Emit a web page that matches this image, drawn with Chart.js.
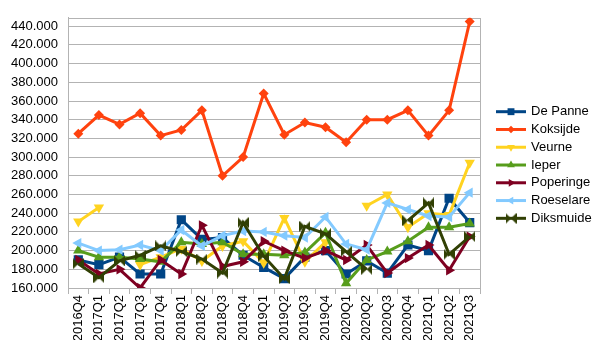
<!DOCTYPE html>
<html lang="nl">
<head>
<meta charset="UTF-8">
<title>Gemeenten per kwartaal</title>
<script src="https://cdn.jsdelivr.net/npm/chart.js"></script>
<style>
  body { margin: 0; background: #fff; }
  canvas { display: block; }
</style>
</head>
<body>
<canvas id="chart" width="605" height="340"></canvas>
<script>
// kwartalen
const quarters = ['2016Q4', '2017Q1', '2017Q2', '2017Q3', '2017Q4', '2018Q1', '2018Q2', '2018Q3', '2018Q4', '2019Q1',
                  '2019Q2', '2019Q3', '2019Q4', '2020Q1', '2020Q2', '2020Q3', '2020Q4', '2021Q1', '2021Q2', '2021Q3'];

// waarden (geschat uit de grafiek)
const dePanne    = [190000, 185000, 193000, 175000, 175000, 233000, 212000, 214000, 195000, 182000, 170000, 193000, 200000, 175000, 189000, 176000, 206000, 200000, 256000, 230000];
const koksijde   = [325000, 345000, 335000, 347000, 323000, 329000, 350000, 280000, 300000, 368000, 324000, 337000, 332000, 316000, 340000, 340000, 350000, 323000, 350000, 445000];
const veurne     = [231000, 246000, null, 185000, 193000, 202000, 189000, 205000, 210000, 187000, 235000, 188000, 209000, null, 248000, 260000, 225000, 240000, 238000, 294000];
const ieper      = [200000, 193000, 193000, 191000, 188000, 209000, 207000, 209000, 196000, 196000, 195000, 198000, 219000, 165000, 190000, 199000, 210000, 225000, 225000, 229000];
const poperinge  = [190000, 175000, 180000, 160000, 190000, 175000, 227000, 183000, 188000, 210000, 200000, 192000, 200000, 190000, 206000, 176000, 192000, 206000, 179000, 215000];
const roeselare  = [208000, 200000, 201000, 206000, 200000, 222000, 205000, 216000, 221000, 220000, 216000, 214000, 236000, 207000, 201000, 251000, 244000, 237000, 236000, 262000];
const diksmuide  = [186000, 171000, 189000, 195000, 205000, 199000, 191000, 176000, 230000, 194000, 170000, 226000, 218000, 199000, 180000, null, 232000, 251000, 196000, 215000];

// y-as
const yTicks = [160000, 180000, 200000, 220000, 240000, 260000, 280000, 300000, 320000, 340000, 360000, 380000, 400000, 420000, 440000];
const yMin = 160000;
const yMax = 449000;

// bowtie marker voor Diksmuide
function bowtie(color, s) {
  const c = document.createElement('canvas');
  c.width = s; c.height = s;
  const g = c.getContext('2d');
  g.fillStyle = color;
  g.beginPath();
  g.moveTo(0, 0); g.lineTo(s / 2, s / 2); g.lineTo(0, s); g.closePath();
  g.moveTo(s, 0); g.lineTo(s / 2, s / 2); g.lineTo(s, s); g.closePath();
  g.fill();
  return c;
}

const series = [
  { label: 'De Panne',  data: dePanne,   color: '#004586', style: 'rect',     radius: 6.5, rot: 0 },
  { label: 'Koksijde',  data: koksijde,  color: '#ff420e', style: 'rectRot',  radius: 5,   rot: 0 },
  { label: 'Veurne',    data: veurne,    color: '#ffd320', style: 'triangle', radius: 6,   rot: 180 },
  { label: 'Ieper',     data: ieper,     color: '#579d1c', style: 'triangle', radius: 6,   rot: 0 },
  { label: 'Poperinge', data: poperinge, color: '#7e0021', style: 'triangle', radius: 6,   rot: 90 },
  { label: 'Roeselare', data: roeselare, color: '#83caff', style: 'triangle', radius: 6,   rot: 270 },
  { label: 'Diksmuide', data: diksmuide, color: '#314004', style: bowtie('#314004', 11), radius: 6, rot: 0 }
];

function fmt(v) {
  return String(v).replace(/\B(?=(\d{3})+(?!\d))/g, '.');
}

// kader rond het plotgebied
const frame = {
  id: 'frame',
  beforeDatasetsDraw(chart) {
    const a = chart.chartArea, ctx = chart.ctx;
    ctx.save();
    ctx.strokeStyle = '#b3b3b3';
    ctx.lineWidth = 1;
    ctx.strokeRect(Math.round(a.left) + 0.5, Math.round(a.top) + 0.5, Math.round(a.right - a.left), Math.round(a.bottom - a.top));
    ctx.restore();
  }
};

// legende rechts
const legend = {
  id: 'sideLegend',
  afterDraw(chart) {
    const ctx = chart.ctx;
    ctx.save();
    ctx.font = '13px "Liberation Sans", Arial, sans-serif';
    ctx.textBaseline = 'middle';
    series.forEach((s, i) => {
      const y = 111.7 + i * 17.77;
      ctx.strokeStyle = s.color;
      ctx.lineWidth = 3;
      ctx.beginPath();
      ctx.moveTo(496, y);
      ctx.lineTo(526, y);
      ctx.stroke();
      ctx.fillStyle = s.color;
      Chart.helpers.drawPoint(ctx, { pointStyle: s.style, radius: s.radius * 0.75, rotation: s.rot, borderWidth: 0 }, 511, y);
      ctx.fillStyle = '#000';
      ctx.fillText(s.label, 531, y);
    });
    ctx.restore();
  }
};

new Chart(document.getElementById('chart'), {
  type: 'line',
  data: {
    labels: quarters,
    datasets: series.map((s, i) => ({
      label: s.label,
      data: s.data,
      borderColor: s.color,
      backgroundColor: s.color,
      pointBackgroundColor: s.color,
      pointBorderColor: s.color,
      pointBorderWidth: 0,
      pointStyle: s.style,
      pointRadius: s.radius,
      pointRotation: s.rot,
      borderWidth: 3,
      tension: 0,
      fill: false,
      spanGaps: false,
      order: series.length - i
    }))
  },
  options: {
    responsive: false,
    animation: false,
    layout: { padding: { top: 7, right: 125, left: 0, bottom: 0 } },
    plugins: {
      legend: { display: false },
      tooltip: { enabled: false }
    },
    scales: {
      x: {
        offset: true,
        grid: { offset: true, drawOnChartArea: false, color: '#b3b3b3', tickLength: 6 },
        border: { color: '#b3b3b3' },
        ticks: {
          minRotation: 90, maxRotation: 90, padding: 1, autoSkip: false,
          color: '#000',
          font: { family: '"Liberation Sans", Arial, sans-serif', size: 13 }
        },
        afterFit(scale) { scale.height = 52; }
      },
      y: {
        min: yMin,
        max: yMax,
        grid: { color: '#b3b3b3', drawTicks: false },
        border: { color: '#b3b3b3' },
        ticks: {
          padding: 10,
          color: '#000',
          font: { family: '"Liberation Sans", Arial, sans-serif', size: 13 },
          callback: v => fmt(v)
        },
        afterBuildTicks(scale) { scale.ticks = yTicks.map(v => ({ value: v })); },
        afterFit(scale) { scale.width = 68; }
      }
    }
  },
  plugins: [frame, legend]
});
</script>
</body>
</html>
